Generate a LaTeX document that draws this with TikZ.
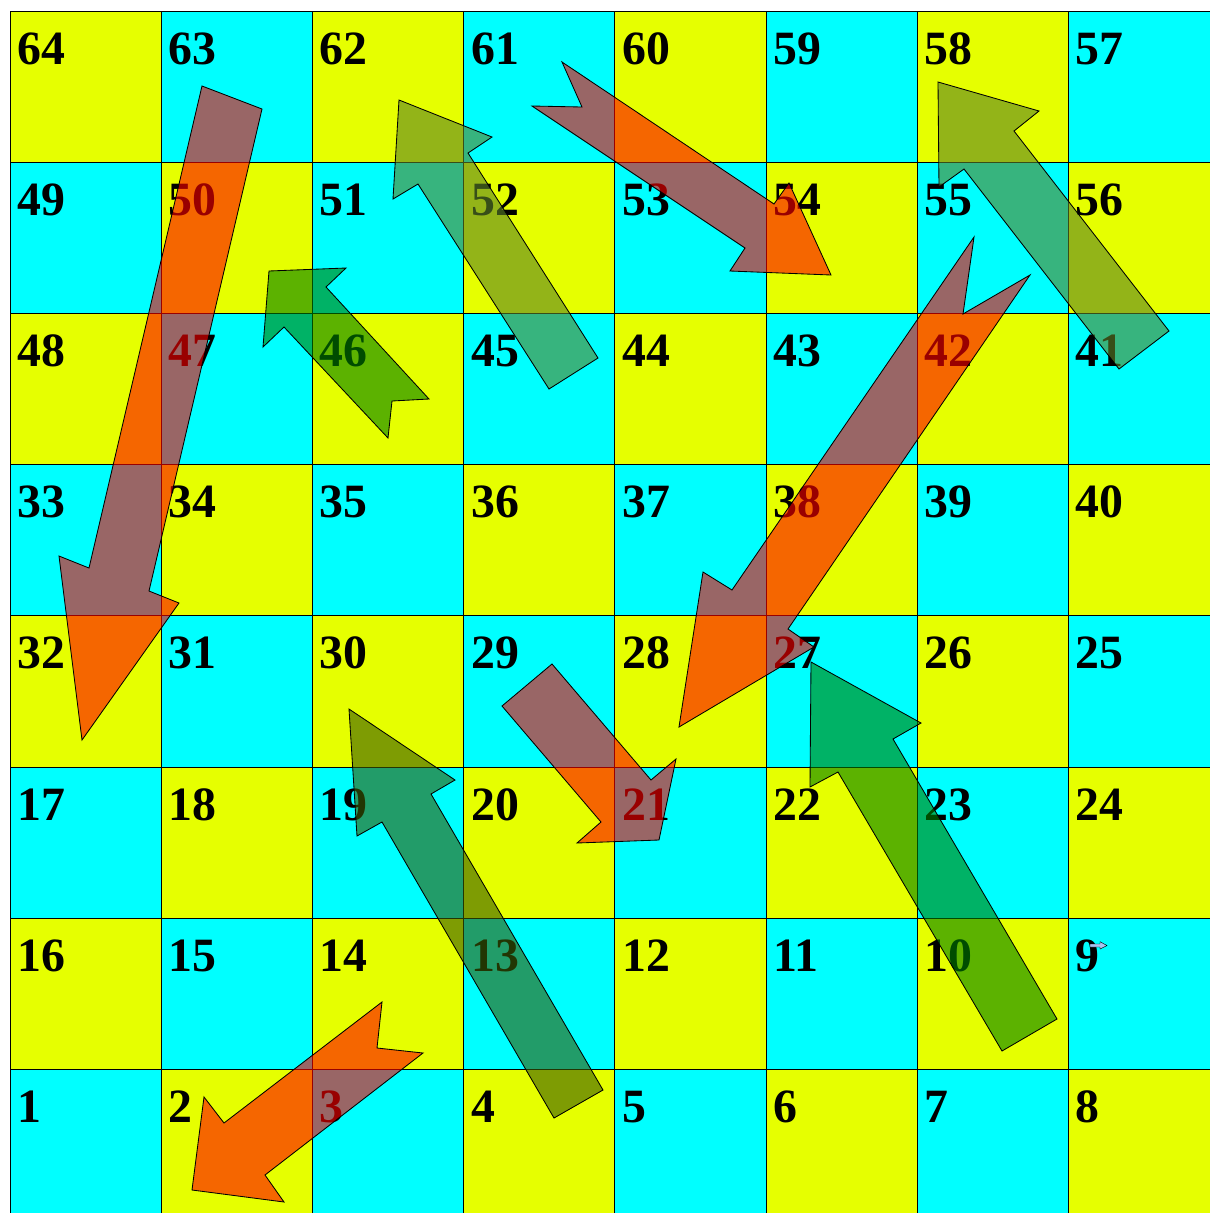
\documentclass[tikz,border=0pt]{standalone}
\usepackage{fontspec}
\setmainfont{Liberation Serif}
\definecolor{cyel}{HTML}{E6FF00}
\definecolor{ccyan}{HTML}{00FFFF}
\definecolor{cred}{HTML}{FF0000}
\definecolor{cgreen}{HTML}{008000}
\definecolor{colive}{HTML}{5D8228}
\definecolor{cdark}{HTML}{395A05}
\definecolor{cicon}{HTML}{A9C4F0}
\tikzset{
  every picture/.style={line width=0.7pt},
  cell/.style={draw=black, fill=#1, line width=0.7pt},
  num/.style={anchor=base west, inner sep=0pt, font=\fontsize{34}{38}\selectfont\bfseries},
  snake/.style={draw=black, fill=cred, fill opacity=0.6, line width=0.6pt},
  ladder/.style={draw=black, fill=#1, fill opacity=0.6, line width=0.6pt},
  ladder/.default=cgreen,
}
\begin{document}
\begin{tikzpicture}[x=0.025cm, y=-0.025cm]
  \fill[white] (0,0) rectangle (1210,1213);
  \useasboundingbox (0,0) rectangle (1210,1213);
  \clip (0,0) rectangle (1210,1213);
  \foreach \r in {0,...,7} \foreach \c in {0,...,7} {
    \pgfmathtruncatemacro\b{7-\r}
    \pgfmathtruncatemacro\n{(mod(\b,2)==0) ? (8*\b+\c+1) : (8*\b+8-\c)}
    \pgfmathtruncatemacro\p{mod(\r+\c,2)}
    \ifnum\p=0 \def\f{cyel}\else\def\f{ccyan}\fi
    \draw[cell=\f] (10+151.2*\c, 11+151.2*\r) rectangle ++(151.2,151.2);
    \node[num] (n\n) at (17+151.2*\c, 64+151.2*\r) {\n};
  }
  \draw[snake] (202,86) -- (262,109) -- (149,591) -- (179,603) -- (82,740) -- (59,556) -- (89,568) -- cycle;
  \draw[snake] (562,62) -- (774,204) -- (789,183) -- (831,275) -- (730,271) -- (745,248) -- (532,106) -- (582,107) -- cycle;
  \draw[snake] (974,237) -- (963,314) -- (1030,275) -- (788,629) -- (814,647) -- (679,727) -- (703,572) -- (732,590) -- cycle;
  \draw[snake] (552,664) -- (651,780) -- (676,759) -- (659,840) -- (577,843) -- (601,822) -- (502,706) -- cycle;
  \draw[snake] (382,1002) -- (377,1048) -- (423,1053) -- (265,1175) -- (284,1202) -- (192,1190) -- (204,1097) -- (224,1123) -- cycle;
  \draw[ladder=colive] (399,100) -- (492,137) -- (468,153) -- (598,358) -- (549,389) -- (418,184) -- (393,199) -- cycle;
  \draw[ladder] (269,271) -- (346,268) -- (326,287) -- (429,399) -- (392,401) -- (388,438) -- (284,327) -- (263,347) -- cycle;
  \draw[ladder=colive] (938,82) -- (1039,111) -- (1014,131) -- (1169,331) -- (1119,369) -- (964,169) -- (939,187) -- cycle;
  \draw[ladder=cdark] (349,709) -- (455,780) -- (431,794) -- (603,1090) -- (554,1118) -- (382,822) -- (357,836) -- cycle;
  \draw[ladder] (811,662) -- (921,723) -- (893,739) -- (1057,1019) -- (1002,1051) -- (838,772) -- (810,787) -- cycle;
  \draw[fill=cicon, line width=0.3pt] (1090,944) -- (1100,944) -- (1100,941.7) -- (1107,945.5) -- (1100,949) -- (1100,947) -- (1090,947) -- cycle;
\end{tikzpicture}
\end{document}
